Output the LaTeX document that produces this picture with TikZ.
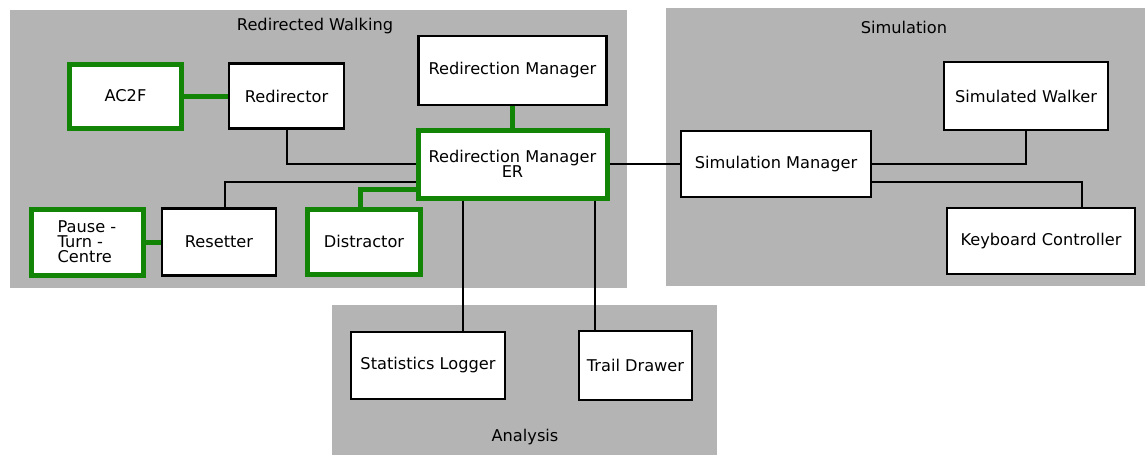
\documentclass[tikz,border=0pt]{standalone}
\usepackage{fontspec}
\setmainfont{DejaVu Sans}
\usetikzlibrary{calc}
\definecolor{grp}{RGB}{180,180,180}
\definecolor{gr}{RGB}{18,132,6}
\begin{document}
\begin{tikzpicture}[x=1pt,y=-1pt,
  every node/.style={font=\fontsize{16.2}{16}\selectfont},
  box/.style={draw=black,line width=2.8pt,fill=white,inner sep=0pt,align=center},
  gbox/.style={draw=gr,line width=5pt,fill=white,inner sep=0pt,align=center},
  grpbox/.style={fill=grp,draw=none},
  bline/.style={draw=black,line width=2pt},
  gline/.style={draw=gr,line width=5pt},
  grplabel/.style={inner sep=0pt}]
\useasboundingbox (0,0) rectangle (1145,455);
% groups
\fill[grpbox] (10,10) rectangle (627,288);
\fill[grpbox] (666,8) rectangle (1145,286);
\fill[grpbox] (332,305) rectangle (717,455);
\node[grplabel] (lrw) at (315,26) {Redirected Walking};
\node[grplabel] (lsim) at (904,27) {Simulation};
\node[grplabel] (lana) at (525,437) {Analysis};
% nodes
\node[gbox,minimum width=112pt,minimum height=64pt] (ac2f) at (125.5,96) {AC2F};
\node[box,minimum width=115pt,minimum height=65pt] (red) at (286.5,96) {Redirector};
\node[box,minimum width=188pt,minimum height=69pt] (rm) at (512.5,70.5) {Redirection Manager};
\node[gbox,minimum width=189pt,minimum height=68pt] (rmer) at (512.5,164) {Redirection Manager\\[-1pt]ER};
\node[gbox,minimum width=112pt,minimum height=66pt,align=left] (pause) at (87,242) {Pause -\\[-1pt]Turn -\\[-1pt]Centre};
\node[box,minimum width=114pt,minimum height=67pt] (res) at (219,242) {Resetter};
\node[gbox,minimum width=113pt,minimum height=65pt] (dis) at (364,241.5) {Distractor};
\node[box,minimum width=190pt,minimum height=66pt] (sm) at (776,164) {Simulation Manager};
\node[box,minimum width=164pt,minimum height=68pt] (sw) at (1026,96) {Simulated Walker};
\node[box,minimum width=188pt,minimum height=66pt] (kc) at (1041,241) {Keyboard Controller};
\node[box,minimum width=154pt,minimum height=67pt] (sl) at (428,365.5) {Statistics Logger};
\node[box,minimum width=113pt,minimum height=69pt] (td) at (635.5,365.5) {Trail Drawer};
% connectors
\draw[gline] (ac2f) -- (red);
\draw[gline] (pause) -- (res);
\draw[gline] (rm) -- (rmer);
\draw[bline] (red.south) |- (rmer.west);
\draw[bline] ([xshift=6pt]res.north) |- ($(rmer.west)+(0,18)$);
\draw[gline] ([xshift=-4pt]dis.north) |- ($(rmer.west)+(0,25)$);
\draw[bline] (rmer.east) -- (sm.west);
\coordinate (p1) at ([xshift=-50pt]rmer.south);
\coordinate (p2) at ([xshift=82pt]rmer.south);
\draw[bline] (p1) -- (p1 |- sl.north);
\draw[bline] (p2) -- (p2 |- td.north);
\draw[bline] (sm.east) -| (sw.south);
\coordinate (p3) at ($(sm.east)+(0,18)$);
\draw[bline] (p3) -| ([xshift=41pt]kc.north);
\end{tikzpicture}
\end{document}
